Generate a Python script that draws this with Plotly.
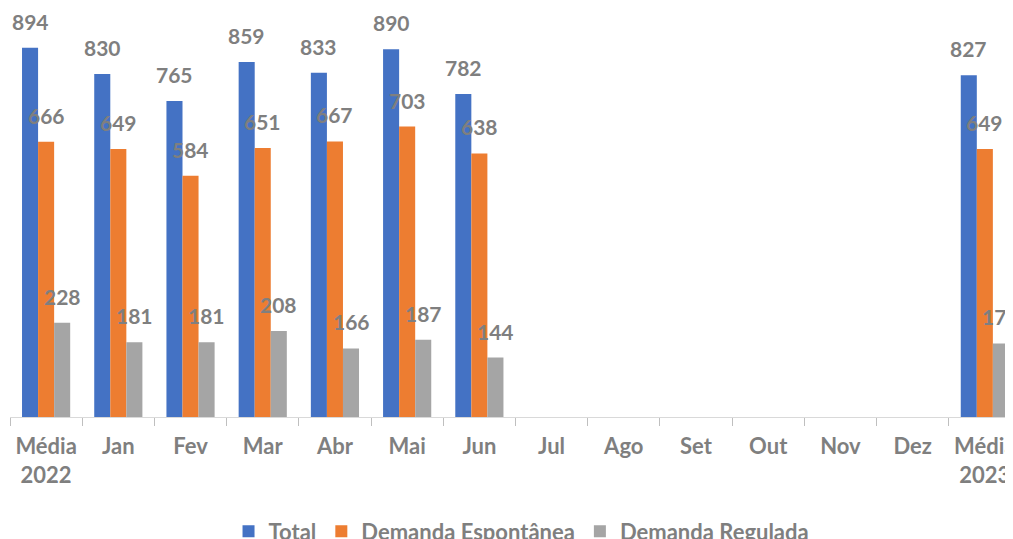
import plotly.graph_objects as go

categories = ['Média<br>2022', 'Jan', 'Fev', 'Mar', 'Abr', 'Mai', 'Jun',
              'Jul', 'Ago', 'Set', 'Out', 'Nov', 'Dez', 'Média<br>2023']
total = [894, 830, 765, 859, 833, 890, 782, None, None, None, None, None, None, 827]
espontanea = [666, 649, 584, 651, 667, 703, 638, None, None, None, None, None, None, 649]
regulada = [228, 181, 181, 208, 166, 187, 144, None, None, None, None, None, None, 178]

series = [('Total', total, '#4472C4'),
          ('Demanda Espontânea', espontanea, '#ED7D31'),
          ('Demanda Regulada', regulada, '#A5A5A5')]

label_grey = '#7F7F7F'
font_family = 'Lato'

fig = go.Figure()
for name, vals, color in series:
    fig.add_trace(go.Bar(x=categories, y=vals, name=name,
                         marker={'color': color, 'line': {'width': 0}}))

# data labels above each bar (offsets follow the grouped bar layout)
bargap = 0.333
bar_w = (1 - bargap) / 3
annotations = []
for k, (name, vals, color) in enumerate(series):
    offset = (k - 1) * bar_w
    for j, v in enumerate(vals):
        if v is None:
            continue
        annotations.append(dict(x=j + offset, y=v, xref='x', yref='y',
                                text=str(v), showarrow=False,
                                yanchor='bottom', yshift=12,
                                font={'family': font_family, 'size': 21,
                                      'color': label_grey, 'weight': 'bold'}))

# page body adds an 8px offset, so the figure is a bit smaller than the window
fig.update_layout(
    width=1005, height=531,
    margin=dict(l=2, r=0, t=0, b=122, autoexpand=False),
    barmode='group', bargap=bargap, bargroupgap=0,
    plot_bgcolor='white', paper_bgcolor='white',
    font={'family': font_family, 'size': 20, 'color': label_grey, 'weight': 'bold'},
    annotations=annotations,
    legend=dict(orientation='h', x=0.51, xanchor='center',
                yref='container', y=0.014, yanchor='middle',
                font={'family': font_family, 'size': 22, 'color': label_grey, 'weight': 'bold'},
                itemwidth=30, traceorder='normal'),
    showlegend=True,
)
fig.update_xaxes(type='category', range=[-0.5, 13.39], automargin=False,
                 showline=True, linecolor='#D9D9D9', linewidth=1,
                 ticks='outside', tickson='boundaries', ticklen=8,
                 tickcolor='#BFBFBF', showgrid=False, ticklabelstandoff=10,
                 tickfont={'family': font_family, 'size': 22, 'color': label_grey, 'weight': 'bold'})
fig.update_yaxes(range=[0, 990], visible=False, showgrid=False, zeroline=False)

fig.write_html("out.html")
